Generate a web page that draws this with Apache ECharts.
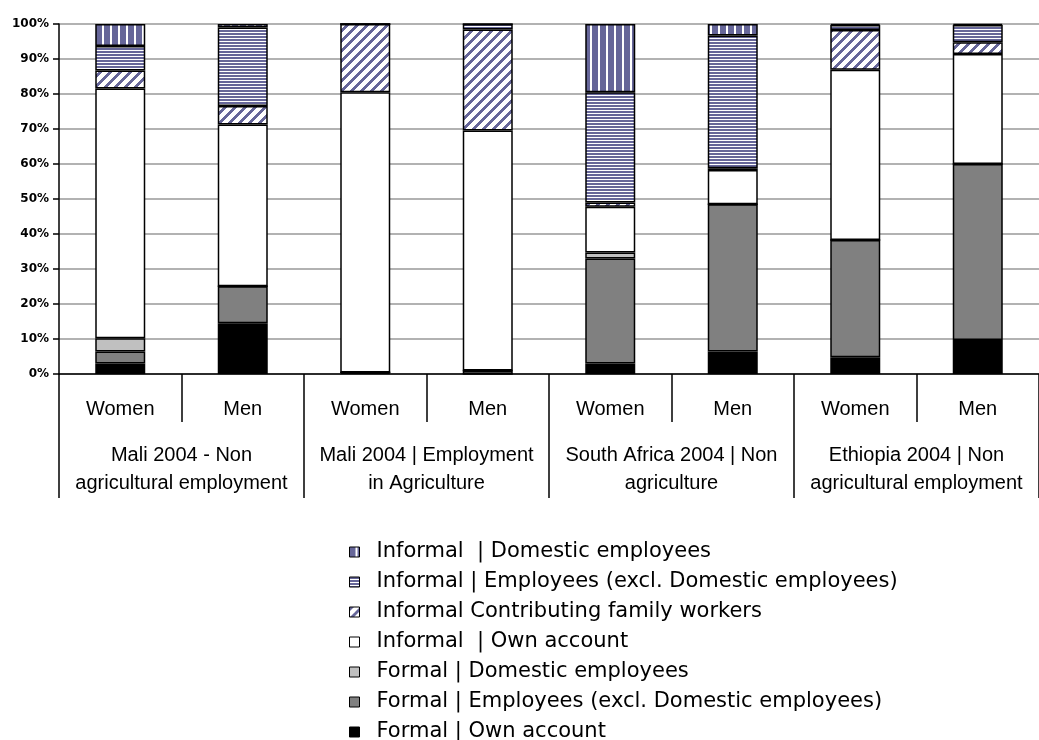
<!DOCTYPE html>
<html>
<head>
<meta charset="utf-8">
<script src="https://cdn.jsdelivr.net/npm/echarts@6/dist/echarts.min.js"></script>
<style>html,body{margin:0;padding:0;background:#fff}#c{width:1039px;height:740px}</style>
</head>
<body>
<div id="c"></div>
<script>
// ---- data ----
const sexLabels = ['Women', 'Men', 'Women', 'Men', 'Women', 'Men', 'Women', 'Men'];
const groupLabels = [
  'Mali 2004 - Non\nagricultural employment',
  'Mali 2004 | Employment\nin Agriculture',
  'South Africa 2004 | Non\nagriculture',
  'Ethiopia 2004 | Non\nagricultural employment'
];
const yTickLabels = ['0%', '10%', '20%', '30%', '40%', '50%', '60%', '70%', '80%', '90%', '100%'];
const seriesNames = [
  'Formal | Own account',
  'Formal | Employees (excl. Domestic employees)',
  'Formal | Domestic employees',
  'Informal  | Own account',
  'Informal Contributing family workers',
  'Informal | Employees (excl. Domestic employees)',
  'Informal  | Domestic employees'
];
const formalOwnAccount       = [3.0, 14.5, 0.4, 0,    3.0, 6.4, 4.8, 9.7];
const formalEmployees        = [3.4, 10.6, 0,   1.0, 30.0, 42.1, 33.5, 50.3];
const formalDomestic         = [3.8, 0,    0,   0,    1.7, 0,   0,    0];
const informalOwnAccount     = [71.4, 46.2, 80.1, 68.6, 13.1, 9.8, 48.6, 31.4];
const informalContributing   = [5.1, 5.3, 19.5, 28.8, 1.2, 0.5, 11.4, 3.4];
const informalEmployees      = [7.0, 22.4, 0,   1.6, 31.5, 37.9, 1.4, 4.9];
const informalDomestic       = [6.3, 1.0, 0,   0,   19.5, 3.3, 0.3, 0.3];
const seriesValues = [formalOwnAccount, formalEmployees, formalDomestic, informalOwnAccount,
  informalContributing, informalEmployees, informalDomestic];

// ---- patterns ----
const BLUE = '#666699';
function tile(w, h, fn) {
  const c = document.createElement('canvas');
  c.width = w; c.height = h;
  const ctx = c.getContext('2d');
  ctx.fillStyle = '#ffffff'; ctx.fillRect(0, 0, w, h);
  ctx.fillStyle = BLUE;
  for (let y = 0; y < h; y++) for (let x = 0; x < w; x++) if (fn(x, y)) ctx.fillRect(x, y, 1, 1);
  return { image: c, repeat: 'repeat' };
}
const vertPat = tile(8, 8, (x, y) => x < 6);
const horPat = tile(3, 3, (x, y) => y < 2);
const diagPat = tile(10, 10, (x, y) => ((x + y) % 10) < 4);
const fills = ['#000000', '#808080', '#c0c0c0', '#ffffff', diagPat, horPat, vertPat];

const chart = echarts.init(document.getElementById('c'), null, { renderer: 'canvas' });
const series = seriesNames.map((n, i) => ({
  name: n,
  type: 'bar',
  stack: 'total',
  barWidth: 50,
  xAxisIndex: 0,
  data: seriesValues[i],
  itemStyle: { color: fills[i], borderColor: '#000', borderWidth: 1.5 },
  emphasis: { disabled: true }
}));

chart.setOption({
  animation: false,
  backgroundColor: '#ffffff',
  grid: { left: 59, right: 0, top: 24, bottom: 366, containLabel: false },
  legend: {
    orient: 'vertical',
    left: 349,
    top: 537,
    height: 300,
    itemWidth: 10,
    itemHeight: 10,
    itemGap: 0,
    padding: 0,
    icon: 'rect',
    data: seriesNames.slice().reverse(),
    textStyle: { fontFamily: 'DejaVu Sans', fontSize: 21, color: '#000', lineHeight: 30, padding: [0, 0, 0, 12] },
    itemStyle: { borderColor: '#000', borderWidth: 1 },
    selectedMode: false
  },
  xAxis: [
    {
      type: 'category',
      data: sexLabels,
      position: 'bottom',
      axisLine: { show: true, lineStyle: { color: '#000', width: 1.5 } },
      axisTick: { show: true, length: 48, interval: 0, lineStyle: { color: '#000', width: 1.5 } },
      axisLabel: { interval: 0, margin: 24, fontFamily: 'Liberation Sans', fontSize: 20, color: '#000', lineHeight: 23 },
      splitLine: { show: false }
    },
    {
      type: 'category',
      data: groupLabels,
      position: 'bottom',
      gridIndex: 0,
      axisLine: { show: false },
      axisTick: { show: true, length: 124, interval: 0, lineStyle: { color: '#000', width: 1.5 } },
      axisLabel: { interval: 0, margin: 67, fontFamily: 'Liberation Sans', fontSize: 20, color: '#000', lineHeight: 28 },
      splitLine: { show: false }
    }
  ],
  yAxis: {
    type: 'value',
    min: 0,
    max: 100,
    interval: 10,
    axisLine: { show: true, lineStyle: { color: '#000', width: 1.5 } },
    axisTick: { show: true, length: 6, lineStyle: { color: '#000', width: 1.5 } },
    axisLabel: {
      margin: 10,
      fontFamily: 'DejaVu Sans',
      fontWeight: 'bold',
      fontSize: 12,
      color: '#000',
      formatter: v => yTickLabels[Math.round(v / 10)]
    },
    splitLine: { show: true, lineStyle: { color: '#999', width: 1.5 } }
  },
  series: series
});
</script>
</body>
</html>
